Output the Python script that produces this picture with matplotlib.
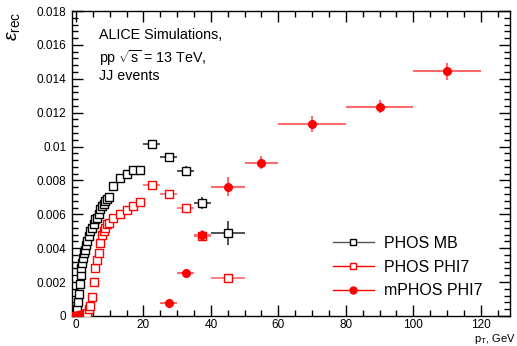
import matplotlib
matplotlib.use("Agg")
import matplotlib.pyplot as plt
from matplotlib.lines import Line2D
from matplotlib.ticker import MultipleLocator, FuncFormatter

# PHOS MB / PHOS PHI7 share the same pT binning
pt_bins = [0.125, 0.375, 0.625, 0.875, 1.125, 1.375, 1.625, 1.875, 2.125, 2.375,
           2.625, 2.875, 3.25, 3.75, 4.25, 4.75, 5.25, 5.75, 6.25, 6.75, 7.25,
           7.75, 8.25, 8.75, 9.25, 9.75, 11, 13, 15, 17, 19, 22.5, 27.5, 32.5,
           37.5, 45]
pt_halfw = [0.125] * 12 + [0.25] * 14 + [1] * 5 + [2.5] * 4 + [5]

eff_mb = [0.0001, 0.0004, 0.0008, 0.0013, 0.0019, 0.0024, 0.0028, 0.0031,
          0.0034, 0.0037, 0.0039, 0.0042, 0.0044, 0.0047, 0.0050, 0.0052,
          0.0054, 0.0057, 0.0058, 0.0060, 0.0063, 0.0065, 0.0066, 0.0068,
          0.0069, 0.0070, 0.00766, 0.00813, 0.00836, 0.00862, 0.00862,
          0.01015, 0.0094, 0.00854, 0.00667, 0.00488]
err_mb = [0.00003] * 12 + [0.00006] * 14 + [0.0001, 0.00012, 0.00015, 0.00018,
          0.0002, 0.0001, 0.0002, 0.0003, 0.00037, 0.0007]

eff_phi7 = [0.00001, 0.00001, 0.00001, 0.00001, 0.00002, 0.00002, 0.00003,
            0.00004, 0.00005, 0.00007, 0.0001, 0.00014, 0.0002, 0.0004,
            0.0006, 0.0011, 0.0020, 0.0028, 0.0033, 0.0037, 0.0043, 0.0048,
            0.0050, 0.0052, 0.0054, 0.0055, 0.00577, 0.00602, 0.00626,
            0.0065, 0.00675, 0.00773, 0.0072, 0.00636, 0.00474, 0.00223]
err_phi7 = [0.00001] * 12 + [0.00004] * 14 + [0.00008, 0.0001, 0.00012,
            0.00014, 0.00016, 0.0001, 0.00015, 0.0002, 0.0002, 0.00025]

# mPHOS PHI7
pt_m = [27.5, 32.5, 37.5, 45, 55, 70, 90, 110]
pt_m_halfw = [2.5, 2.5, 2.5, 5, 5, 10, 10, 10]
eff_m = [0.00077, 0.00254, 0.00476, 0.00763, 0.00905, 0.01133, 0.01236, 0.01445]
err_m = [0.0001, 0.0002, 0.0003, 0.00055, 0.0004, 0.0005, 0.0004, 0.0005]

plt.rcParams.update({"font.family": ["Liberation Sans", "DejaVu Sans"],
                     "mathtext.fontset": "custom",
                     "mathtext.rm": "Liberation Sans",
                     "mathtext.it": "Liberation Sans:italic"})

fig = plt.figure(figsize=(5.17, 3.46), dpi=100)
ax = fig.add_axes([0.139, 0.087, 0.847, 0.881])

red_err = "#ff6a6a"
ax.errorbar(pt_bins, eff_mb, yerr=err_mb, xerr=pt_halfw, fmt="s", ms=6,
            mfc="white", mec="black", mew=1.0, ecolor="#333333", elinewidth=1.2,
            capsize=0, zorder=3)
ax.errorbar(pt_bins, eff_phi7, yerr=err_phi7, xerr=pt_halfw, fmt="s", ms=6,
            mfc="white", mec="red", mew=1.0, ecolor=red_err, elinewidth=1.2,
            capsize=0, zorder=4)
ax.errorbar(pt_m, eff_m, yerr=err_m, xerr=pt_m_halfw, fmt="o", ms=5.5,
            mfc="red", mec="red", ecolor=red_err, elinewidth=1.5,
            capsize=0, zorder=5)

ax.set_xlim(-1.2, 128.6)
ax.set_ylim(0, 0.018)
ax.xaxis.set_major_locator(MultipleLocator(20))
ax.xaxis.set_minor_locator(MultipleLocator(5))
ax.yaxis.set_major_locator(MultipleLocator(0.002))
ax.yaxis.set_minor_locator(MultipleLocator(0.0004))
ax.yaxis.set_major_formatter(FuncFormatter(lambda v, p: f"{v:g}" if abs(v) > 1e-9 else "0"))
ax.tick_params(which="both", direction="in", top=True, right=True,
               labelsize=8.5, pad=4)
ax.tick_params(axis="x", which="major", pad=2.5)
ax.tick_params(which="major", length=8, width=1)
ax.tick_params(which="minor", length=4, width=1)
for s in ax.spines.values():
    s.set_linewidth(1.0)

fig.text(0.009, 0.965, r"$\epsilon_{\mathrm{rec}}$", rotation=90, ha="left",
         va="top", fontsize=14)
fig.text(0.998, 0.0, r"p$_{\mathrm{T}}$, GeV", ha="right", va="bottom",
         fontsize=8)

ax.text(0.063, 0.945, "ALICE Simulations,", transform=ax.transAxes,
        fontsize=10.3, va="top")
ax.text(0.063, 0.88, r"pp $\sqrt{\mathrm{s}}$ = 13 TeV,", transform=ax.transAxes,
        fontsize=10.3, va="top")
ax.text(0.063, 0.81, "JJ events", transform=ax.transAxes, fontsize=10.3, va="top")

handles = [
    Line2D([], [], color="#555555", lw=1, marker="s", ms=5, mfc="white", mec="black"),
    Line2D([], [], color="red", lw=1, marker="s", ms=5, mfc="white", mec="red"),
    Line2D([], [], color="red", lw=1, marker="o", ms=5, mfc="red", mec="red"),
]
ax.legend(handles, ["PHOS MB", "PHOS PHI7", "mPHOS PHI7"], loc="lower right",
          bbox_to_anchor=(0.97, 0.01), frameon=False, fontsize=11.5,
          handlelength=2.6, labelspacing=0.55, handletextpad=0.6)

fig.savefig("out.png", dpi=100)
